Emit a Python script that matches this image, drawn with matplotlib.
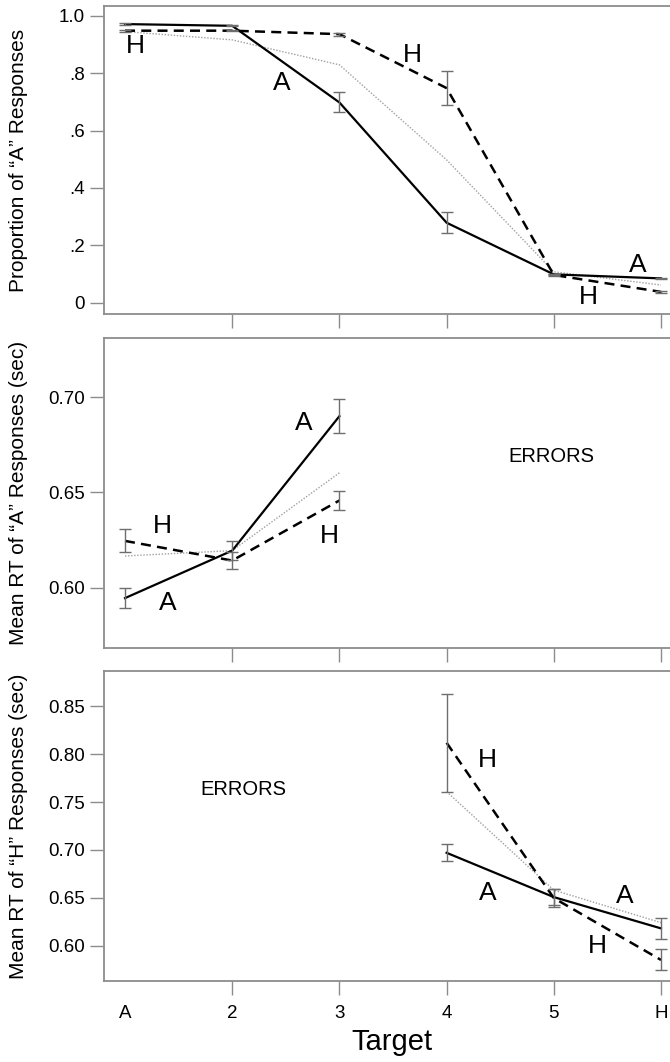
import matplotlib
matplotlib.use("Agg")
import matplotlib.pyplot as plt

plt.rcParams['font.family'] = ['Liberation Sans', 'DejaVu Sans']

# ---------------- data ----------------
targets = ['A', '2', '3', '4', '5', 'H']
xpos = [1, 2, 3, 4, 5, 6]

# Panel 1: proportion of "A" responses
p1_solid = [0.971, 0.965, 0.698, 0.279, 0.099, 0.085]
p1_solid_err = [0.003, 0.002, 0.035, 0.037, 0.003, 0.003]
p1_dashed = [0.948, 0.948, 0.936, 0.748, 0.097, 0.038]
p1_dashed_err = [0.003, 0.002, 0.005, 0.058, 0.003, 0.003]
p1_dotted = [0.945, 0.916, 0.829, 0.498, 0.108, 0.062]

# Panel 2: mean RT of "A" responses (targets A, 2, 3)
p2_x = [1, 2, 3]
p2_solid = [0.5946, 0.6195, 0.690]
p2_solid_err = [0.0052, 0.005, 0.009]
p2_dashed = [0.6246, 0.6143, 0.6458]
p2_dashed_err = [0.006, 0.0045, 0.0052]
p2_dotted = [0.6167, 0.6195, 0.6603]

# Panel 3: mean RT of "H" responses (targets 4, 5, H)
p3_x = [4, 5, 6]
p3_solid = [0.697, 0.6507, 0.618]
p3_solid_err = [0.009, 0.008, 0.011]
p3_dashed = [0.812, 0.6497, 0.585]
p3_dashed_err = [0.051, 0.009, 0.011]
p3_dotted = [0.761, 0.658, 0.624]

# curve labels (text, x, y)
p1_labels = [('H', 1.10, 0.893), ('A', 2.46, 0.765), ('H', 3.68, 0.864),
             ('A', 5.78, 0.131), ('H', 5.32, 0.021)]
p2_labels = [('H', 1.35, 0.6324), ('A', 1.40, 0.592), ('A', 2.67, 0.6864),
             ('H', 2.91, 0.627)]
p3_labels = [('H', 4.38, 0.794), ('A', 4.38, 0.655), ('A', 5.66, 0.652),
             ('H', 5.41, 0.600)]

W, H = 670, 1062
fig = plt.figure(figsize=(W / 100, H / 100), dpi=100)

def add_axes(top, bottom):
    left, right = 104, 670
    return fig.add_axes([left / W, 1 - bottom / H, (right - left) / W, (bottom - top) / H])

ax1 = add_axes(6, 314)
ax2 = add_axes(338, 647.5)
ax3 = add_axes(671, 981)

spine_col = '#8c8c8c'
err_col = '#6e6e6e'
dot_col = '#a0a0a0'

def style(ax, show_labels):
    for s in ['top', 'left', 'bottom']:
        ax.spines[s].set_color(spine_col)
        ax.spines[s].set_linewidth(1.3)
    ax.spines['right'].set_visible(False)
    ax.set_xlim(0.804, 6.084)
    ax.set_xticks(xpos)
    ax.set_xticklabels(targets if show_labels else [''] * 6)
    ax.tick_params(direction='out', length=10, width=1, color=spine_col,
                   labelsize=13.5, pad=4)
    ax.tick_params(axis='x', pad=7)
    ax.xaxis.get_major_ticks()[0].tick1line.set_visible(False)
    ax.yaxis.set_label_coords(-0.135, 0.5)

def draw(ax, x, solid, serr, dashed, derr, dotted):
    ax.plot(x, dotted, color=dot_col, lw=1.0, ls=(0, (1, 1.2)), zorder=2)
    ax.plot(x, solid, color='black', lw=1.6, ls='-', zorder=3)
    ax.plot(x, dashed, color='black', lw=1.8, ls=(0, (4, 2.5)), zorder=3)
    ax.errorbar(x, solid, yerr=serr, fmt='none', ecolor=err_col, elinewidth=1,
                capsize=4.5, capthick=1, zorder=4)
    ax.errorbar(x, dashed, yerr=derr, fmt='none', ecolor=err_col, elinewidth=1,
                capsize=4.5, capthick=1, zorder=4)

def labels(ax, lab):
    for t, x, y in lab:
        ax.text(x, y, t, fontsize=19, ha='center', va='center')

# Panel 1
draw(ax1, xpos, p1_solid, p1_solid_err, p1_dashed, p1_dashed_err, p1_dotted)
style(ax1, False)
ax1.set_ylim(-0.039, 1.034)
ax1.set_yticks([0, 0.2, 0.4, 0.6, 0.8, 1.0])
ax1.set_yticklabels(['0', '.2', '.4', '.6', '.8', '1.0'])
ax1.set_ylabel('Proportion of \u201cA\u201d Responses', fontsize=15)
labels(ax1, p1_labels)

# Panel 2
draw(ax2, p2_x, p2_solid, p2_solid_err, p2_dashed, p2_dashed_err, p2_dotted)
style(ax2, False)
ax2.set_ylim(0.5687, 0.731)
ax2.set_yticks([0.60, 0.65, 0.70])
ax2.set_yticklabels(['0.60', '0.65', '0.70'])
ax2.set_ylabel('Mean RT of \u201cA\u201d Responses (sec)', fontsize=15)
labels(ax2, p2_labels)
ax2.text(4.98, 0.669, 'ERRORS', fontsize=14.5, ha='center', va='center')

# Panel 3
draw(ax3, p3_x, p3_solid, p3_solid_err, p3_dashed, p3_dashed_err, p3_dotted)
style(ax3, True)
ax3.set_ylim(0.563, 0.887)
ax3.set_yticks([0.60, 0.65, 0.70, 0.75, 0.80, 0.85])
ax3.set_yticklabels(['0.60', '0.65', '0.70', '0.75', '0.80', '0.85'])
ax3.set_ylabel('Mean RT of \u201cH\u201d Responses (sec)', fontsize=15)
labels(ax3, p3_labels)
ax3.text(2.10, 0.763, 'ERRORS', fontsize=14.5, ha='center', va='center')

fig.text(392 / W, 1 - 1042 / H, 'Target', fontsize=21, ha='center', va='center')

fig.savefig('out.png', dpi=100)
